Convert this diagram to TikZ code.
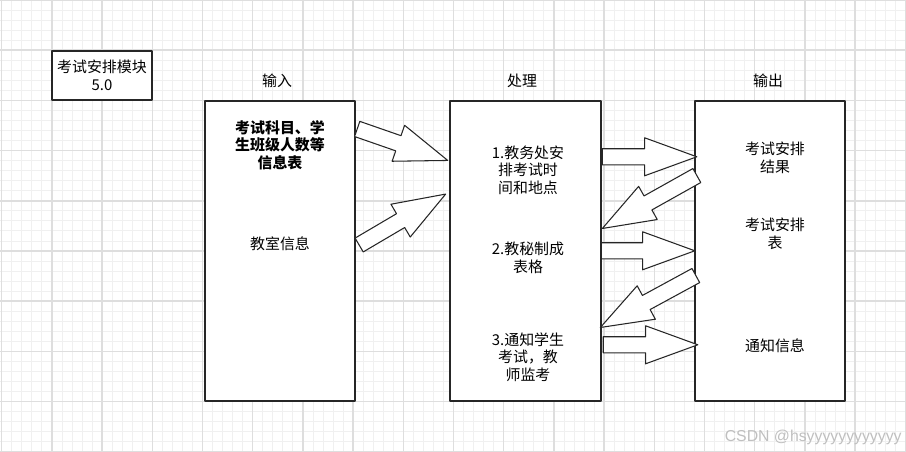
\documentclass[tikz,border=0pt]{standalone}
\usepackage{fontspec}
\setmainfont{Noto Sans CJK SC}
\newfontfamily\markfont{Liberation Sans}
\usepackage{tikz}
\usetikzlibrary{calc,arrows.meta,positioning,shapes.arrows}

% block arrow from #2 to #3, named #1
\newcommand{\blockarrow}[3]{%
  \path let \p1=($(#3)-(#2)$), \n1={atan2(\y1,\x1)}, \n2={veclen(\x1,\y1)} in
    node[fatarrow,minimum height=\n2,rotate=\n1,anchor=tail] (#1) at (#2)
      {\rule{0pt}{0.30cm}};
}

\begin{document}
\begin{tikzpicture}[
  line cap=round,
  line join=round,
  >=Latex,
  font=\fontsize{8.5}{10}\selectfont,
  minorgrid/.style={black!6,line width=0.5pt},
  majorgrid/.style={black!13,line width=0.9pt},
  stagebox/.style={draw=black!85,fill=white,line width=0.8pt,
    minimum width=3.0cm,minimum height=6.0cm,inner sep=0pt},
  titlebox/.style={draw=black!85,fill=white,line width=0.8pt,
    minimum width=2.0cm,minimum height=0.98cm,align=center,inner sep=0pt},
  boxtext/.style={align=center,inner sep=0pt},
  fatarrow/.style={single arrow,draw=black!85,fill=white,line width=0.6pt,
    inner sep=0pt,minimum width=0pt,single arrow head extend=0.22cm,
    single arrow tip angle=40}
]
\path[use as bounding box] (0,0) rectangle (18.12,9.04);

% background grid
\begin{scope}
  \clip (0,0) rectangle (18.12,9.04);
  \begin{scope}[shift={(0.034,0.004)}]
    \draw[minorgrid] (-1,-1) grid[step=0.2008] (19,10);
    \draw[majorgrid] (-1,-1) grid[step=1.004] (19,10);
  \end{scope}
\end{scope}

\node[titlebox] (title) at (2.04,7.53) {考试安排模块\\5.0};

\node[stagebox] (inbox) at (5.60,4.02) {};
\node[stagebox,minimum width=3.02cm] (proc) at (10.51,4.02) {};
\node[stagebox] (outbox) at (15.40,4.02) {};

\node (inlabel) at (5.54,7.42) {输入};
\node (proclabel) at (10.44,7.42) {处理};
\node (outlabel) at (15.36,7.42) {输出};

\node[boxtext,font=\fontsize{8.5}{10}\selectfont\bfseries] (informs) at (5.60,6.14)
  {考试科目、学\\生班级人数等\\信息表};
\node[boxtext] (inrooms) at (5.60,4.16) {教室信息};

\node[boxtext] (step1) at (10.56,5.64) {1.教务处安\\排考试时\\间和地点};
\node[boxtext] (step2) at (10.56,3.88) {2.教秘制成\\表格};
\node[boxtext] (step3) at (10.56,1.90) {3.通知学生\\考试，教\\师监考};

\node[boxtext] (res1) at (15.50,5.88) {考试安排\\结果};
\node[boxtext] (res2) at (15.50,4.36) {考试安排\\表};
\node[boxtext] (res3) at (15.50,2.13) {通知信息};

% arrow ends
\coordinate (a1s) at ($(inbox.north east)+(0.02,-0.57)$);
\coordinate (a1e) at ($(proc.north west)+(-0.04,-1.20)$);
\coordinate (a2s) at ($(inbox.north east)+(0.06,-2.90)$);
\coordinate (a2e) at ($(proc.north west)+(-0.08,-1.88)$);

\coordinate (b1s) at ($(proc.north east)+(0,-1.13)$);
\coordinate (b1e) at ($(outbox.north west)+(0.04,-1.13)$);
\coordinate (b2s) at ($(outbox.north west)+(0.06,-1.50)$);
\coordinate (b2e) at ($(proc.north east)+(0.02,-2.56)$);
\coordinate (b3s) at ($(proc.north east)+(-0.02,-3.01)$);
\coordinate (b3e) at ($(outbox.north west)+(0,-3.01)$);
\coordinate (b4s) at ($(outbox.north west)+(0.04,-3.50)$);
\coordinate (b4e) at ($(proc.north east)+(-0.02,-4.54)$);
\coordinate (b5s) at ($(proc.north east)+(0.02,-4.89)$);
\coordinate (b5e) at ($(outbox.north west)+(0.06,-4.89)$);

\blockarrow{arrA}{a1s}{a1e}
\blockarrow{arrB}{a2s}{a2e}
\blockarrow{arrC}{b1s}{b1e}
\blockarrow{arrD}{b2s}{b2e}
\blockarrow{arrE}{b3s}{b3e}
\blockarrow{arrF}{b4s}{b4e}
\blockarrow{arrG}{b5s}{b5e}

\node[anchor=east,inner sep=0pt,text=black!25,font=\markfont\fontsize{9}{10}\selectfont]
  (mark) at (18.04,0.30) {CSDN @hsyyyyyyyyyyyy};
\end{tikzpicture}
\end{document}
